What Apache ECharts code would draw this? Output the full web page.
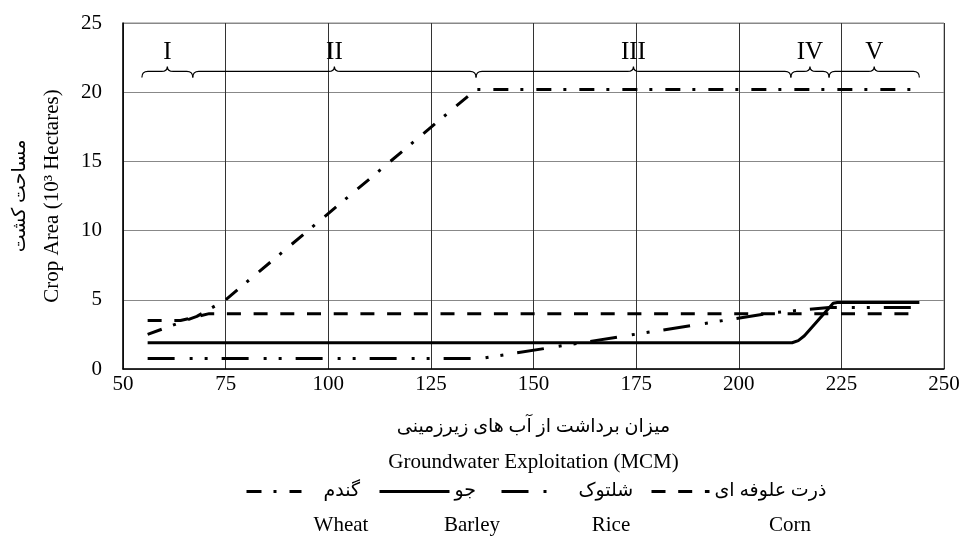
<!DOCTYPE html>
<html>
<head>
<meta charset="utf-8">
<script src="https://cdn.jsdelivr.net/npm/echarts@6/dist/echarts.min.js"></script>
<style>
  html, body { margin: 0; padding: 0; background: #fff; }
  #main { width: 963px; height: 537px; }
</style>
</head>
<body>
<div id="main"></div>
<script>
// داده‌ها - نقاط خوانده‌شده از نمودار (x: MCM, y: 10^3 ha)
const wheatPoints = [[56, 2.5], [68, 3.8], [75, 5.0], [136, 20.2], [244, 20.2]];
const barleyPoints = [[56, 1.9], [213, 1.9], [214.5, 2.05], [216, 2.4], [223, 4.75], [224, 4.8], [244, 4.8]];
const ricePoints = [[56, 0.75], [137, 0.75], [208, 4.05], [222, 4.45], [244, 4.45]];
const cornPoints = [[56, 3.5], [64, 3.5], [71, 4.0], [244, 4.0]];

const seriesNamesEn = ["Wheat", "Barley", "Rice", "Corn"];
const seriesNamesFa = ["گندم", "جو", "شلتوک", "ذرت علوفه ای"];

// بازه‌های مراحل I تا V
const stageNames = ["I", "II", "III", "IV", "V"];
const stageBounds = [54.6, 67, 136, 212.7, 222, 244];

const xTicks = [50, 75, 100, 125, 150, 175, 200, 225, 250];
const yTicks = [0, 5, 10, 15, 20, 25];

const FONT = "'Liberation Serif', 'Times New Roman', 'DejaVu Sans', serif";

const stageData = stageNames.map((n, i) => [stageBounds[i], stageBounds[i + 1], n]);

// جای راهنما (پیکسل)
const legendLayout = [
	{ left: 245, width: 55, pad: 17, label: 341 },
	{ left: 378, width: 70, pad: 0, label: 472 },
	{ left: 500, width: 57, pad: 15, label: 611 },
	{ left: 650, width: 58, pad: 0, label: 790 },
];

const chart = echarts.init(document.getElementById("main"));

const lineBase = {
	type: "line",
	showSymbol: false,
	symbol: "none",
	silent: true,
	color: "#000",
	animation: false,
};

const option = {
	animation: false,
	textStyle: { fontFamily: FONT, color: "#000" },
	grid: {
		left: 123, right: 19, top: 23, bottom: 168,
		show: true, borderColor: "#888", borderWidth: 1,
	},
	xAxis: {
		type: "value",
		min: xTicks[0], max: xTicks[xTicks.length - 1], interval: 25,
		axisLine: { lineStyle: { color: "#000", width: 1.5 } },
		axisTick: { show: false },
		axisLabel: { color: "#000", fontSize: 21, fontFamily: FONT, margin: 5 },
		splitLine: { lineStyle: { color: "#333", width: 1 } },
		name: "{fa|میزان برداشت از آب های زیرزمینی}\n{en|Groundwater Exploitation (MCM)}",
		nameLocation: "middle",
		nameGap: 43,
		nameTextStyle: {
			rich: {
				fa: { fontSize: 19, lineHeight: 30, fontFamily: FONT, color: "#000" },
				en: { fontSize: 21, lineHeight: 40, fontFamily: FONT, color: "#000" },
			},
		},
	},
	yAxis: {
		type: "value",
		min: yTicks[0], max: yTicks[yTicks.length - 1], interval: 5,
		axisLine: { show: true, lineStyle: { color: "#000", width: 1.5 } },
		axisTick: { show: false },
		axisLabel: { color: "#000", fontSize: 21, fontFamily: FONT, margin: 21 },
		splitLine: { lineStyle: { color: "#888", width: 1 } },
		name: "{fa|مساحت کشت}\n{en|Crop Area (10³ Hectares)}",
		nameLocation: "middle",
		nameGap: 56,
		nameTextStyle: {
			rich: {
				fa: { fontSize: 19, lineHeight: 34, fontFamily: FONT, color: "#000" },
				en: { fontSize: 21, lineHeight: 30, fontFamily: FONT, color: "#000" },
			},
		},
	},
	legend: legendLayout.map((l, i) => ({
		data: [seriesNamesEn[i]],
		left: l.left,
		top: 482,
		itemWidth: l.width,
		itemHeight: 14,
		itemStyle: { opacity: 0 },
		lineStyle: { width: 3 },
		selectedMode: false,
		padding: 0,
		formatter: (name) => seriesNamesFa[seriesNamesEn.indexOf(name)],
		textStyle: {
			fontSize: 19, fontFamily: FONT, color: "#000",
			padding: [8, 0, 0, l.pad],
		},
	})),
	// برچسب انگلیسی زیر هر مورد راهنما
	graphic: legendLayout.map((l, i) => ({
		type: "text",
		x: l.label,
		y: 525,
		style: {
			text: seriesNamesEn[i], font: "21px " + FONT, fill: "#000",
			textAlign: "center", textVerticalAlign: "middle",
		},
	})),
	series: [
		{
			...lineBase, name: seriesNamesEn[0], data: wheatPoints, z: 4,
			lineStyle: { color: "#000", width: 3, type: [15, 12, 3, 13], cap: "butt" },
		},
		{
			...lineBase, name: seriesNamesEn[1], data: barleyPoints, z: 3,
			lineStyle: { color: "#000", width: 3, type: "solid" },
		},
		{
			...lineBase, name: seriesNamesEn[2], data: ricePoints, z: 5,
			lineStyle: { color: "#000", width: 3, type: [27, 15, 3, 12, 3, 14], cap: "butt" },
		},
		{
			...lineBase, name: seriesNamesEn[3], data: cornPoints, z: 2,
			lineStyle: { color: "#000", width: 3, type: [14, 12.7], cap: "butt" },
		},
		{
			// آکولادهای مراحل
			type: "custom",
			silent: true,
			data: stageData,
			encode: { x: [0, 1] },
			z: 6,
			renderItem: function (params, api) {
				const braceY = 21.5;
				const p1 = api.coord([api.value(0), braceY]);
				const p2 = api.coord([api.value(1), braceY]);
				const y = p1[1];
				const x1 = p1[0], x2 = p2[0], xm = (x1 + x2) / 2;
				const r = Math.min(6, (x2 - x1) / 6);
				const path =
					"M" + x1 + "," + (y + 6) +
					" Q" + x1 + "," + y + " " + (x1 + r) + "," + y +
					" L" + (xm - r) + "," + y +
					" Q" + xm + "," + y + " " + xm + "," + (y - 5) +
					" Q" + xm + "," + y + " " + (xm + r) + "," + y +
					" L" + (x2 - r) + "," + y +
					" Q" + x2 + "," + y + " " + x2 + "," + (y + 6);
				return {
					type: "group",
					children: [
						{
							type: "path",
							shape: { pathData: path },
							style: { fill: "none", stroke: "#000", lineWidth: 1.2 },
						},
						{
							type: "text",
							x: xm, y: y - 19,
							style: {
								text: stageNames[params.dataIndex],
								font: "25px " + FONT, fill: "#000",
								textAlign: "center", textVerticalAlign: "middle",
							},
						},
					],
				};
			},
		},
	],
};

chart.setOption(option);
</script>
</body>
</html>
